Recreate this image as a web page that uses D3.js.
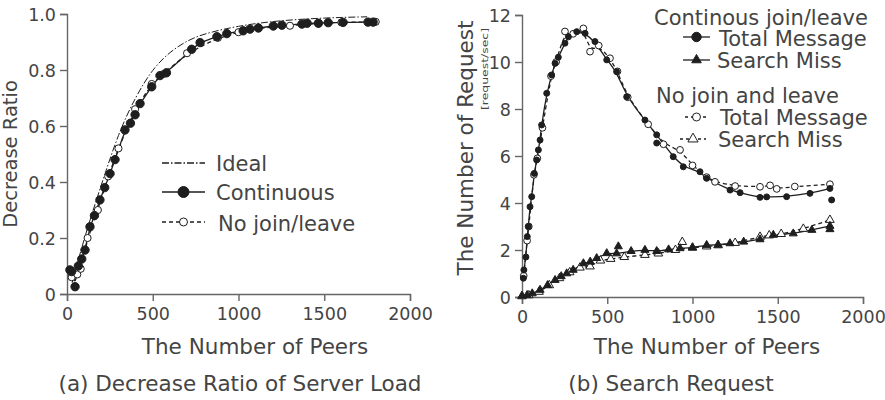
<!DOCTYPE html>
<html>
<head>
<meta charset="utf-8">
<script src="https://cdn.jsdelivr.net/npm/d3@7"></script>
<style>
body { margin: 0; background: #fff; }
text { font-family: "DejaVu Sans", Verdana, sans-serif; fill: #444; }
</style>
</head>
<body>
<div id="chart"></div>
<script>
// ---- (a) decrease ratio of server load ----
const idealPeers = [30, 100, 200, 300, 400, 500, 600, 700, 800, 1000, 1200, 1400, 1600, 1750]
const idealRatio = [0.04, 0.2, 0.39, 0.575, 0.705, 0.805, 0.865, 0.905, 0.93, 0.958, 0.974, 0.983, 0.988, 0.99]

const contPeers = [17, 27, 47, 66, 86, 105, 134, 160, 192, 220, 251, 280, 338, 370, 397, 426, 494, 542, 580, 727, 776, 874, 932, 1027, 1067, 1116, 1203, 1253, 1370, 1400, 1466, 1523, 1610, 1755, 1785]
const contRatio = [0.086, 0.08, 0.026, 0.10, 0.125, 0.157, 0.24, 0.28, 0.336, 0.38, 0.43, 0.48, 0.586, 0.61, 0.64, 0.68, 0.74, 0.78, 0.79, 0.874, 0.898, 0.919, 0.93, 0.94, 0.946, 0.95, 0.957, 0.96, 0.964, 0.967, 0.967, 0.969, 0.97, 0.971, 0.971]

const nojoinPeers = [27, 60, 80, 120, 180, 240, 300, 397, 494, 560, 700, 880, 1000, 1116, 1300, 1466, 1600, 1800]
const nojoinRatio = [0.06, 0.07, 0.09, 0.2, 0.3, 0.42, 0.52, 0.66, 0.75, 0.785, 0.86, 0.915, 0.935, 0.95, 0.958, 0.967, 0.97, 0.972]

// ---- (b) search request ----
const tmContPeers = [8, 11, 23, 31, 37, 47, 57, 72, 86, 96, 106, 115, 145, 174, 194, 213, 252, 272, 321, 370, 428, 497, 555, 614, 721, 790, 887, 946, 1044, 1083, 1220, 1279, 1396, 1435, 1552, 1689, 1806]
const tmContReq = [0.8, 1.15, 1.7, 2.57, 3.0, 3.84, 4.27, 5.26, 5.83, 6.26, 6.68, 7.32, 8.67, 9.45, 9.94, 10.2, 10.8, 11.07, 11.29, 11.22, 10.87, 10.09, 9.59, 8.52, 7.53, 6.9, 5.97, 5.54, 5.33, 5.05, 4.55, 4.44, 4.24, 4.26, 4.27, 4.41, 4.62]
const tmContStray = [[790, 6.55], [1816, 4.13]]

const tmNoPeers = [10, 30, 40, 70, 90, 120, 170, 200, 252, 300, 360, 399, 450, 516, 560, 620, 740, 830, 927, 1000, 1083, 1132, 1250, 1396, 1455, 1494, 1600, 1806]
const tmNoReq = [0.9, 2.4, 3.0, 5.2, 5.9, 7.2, 9.4, 10.0, 11.3, 11.2, 11.43, 10.44, 10.7, 10.16, 9.6, 8.5, 7.35, 6.5, 6.26, 5.6, 5.1, 4.9, 4.72, 4.69, 4.75, 4.6, 4.7, 4.8]

const smContPeers = [0, 30, 60, 106, 150, 194, 230, 262, 300, 360, 400, 438, 497, 555, 640, 721, 790, 860, 927, 1000, 1083, 1150, 1220, 1300, 1396, 1474, 1591, 1700, 1806]
const smContReq = [0.05, 0.08, 0.15, 0.3, 0.5, 0.72, 0.88, 1.0, 1.15, 1.43, 1.5, 1.65, 1.86, 1.85, 1.95, 2.0, 1.95, 2.02, 2.07, 2.1, 2.21, 2.22, 2.28, 2.35, 2.45, 2.64, 2.7, 2.85, 3.02]
const smContStray = [[565, 2.15], [1806, 2.88]]

const smNoPeers = [0, 40, 100, 160, 220, 280, 340, 399, 460, 520, 600, 721, 800, 900, 1000, 1083, 1150, 1250, 1396, 1450, 1520, 1650, 1806]
const smNoReq = [0.03, 0.07, 0.22, 0.5, 0.8, 1.05, 1.25, 1.3, 1.55, 1.62, 1.7, 1.79, 1.85, 2.0, 2.1, 2.15, 2.2, 2.3, 2.56, 2.62, 2.68, 2.9, 3.28]
const smNoStray = [[940, 2.34]]

const xTicks = [0, 500, 1000, 1500, 2000]
const ratioTicks = [0, 0.2, 0.4, 0.6, 0.8, 1.0]
const reqTicks = [0, 2, 4, 6, 8, 10, 12]

const width = 885
const height = 400
const ink = "#1e1e1e"
const axisGray = "#666"

let svg = d3.select("#chart")
            .append("svg")
                .attr("width", width)
                .attr("height", height)

const zip = (xs, ys) => xs.map((x, i) => [x, ys[i]])

function drawAxes(x, y, yTicks, yFmt) {
    let gx = svg.append("g")
        .attr("transform", `translate(0, ${y.range()[0]})`)
        .call(d3.axisBottom(x).tickValues(xTicks).tickFormat(d3.format("d")).tickSize(7).tickPadding(7))
    let gy = svg.append("g")
        .attr("transform", `translate(${x.range()[0]}, 0)`)
        .call(d3.axisLeft(y).tickValues(yTicks).tickFormat(yFmt).tickSize(7).tickPadding(4))
    for (let g of [gx, gy]) {
        g.selectAll("path, line").attr("stroke", axisGray).attr("stroke-width", 1.4)
        g.selectAll("text").attr("font-size", "17.5px").attr("fill", "#444")
            .style("font-family", '"DejaVu Sans", Verdana, sans-serif')
    }
    gy.selectAll("text").attr("dy", "0.36em")
}

function drawLine(x, y, pts, dash, w) {
    svg.append("path")
        .datum(pts)
        .attr("fill", "none")
        .attr("stroke", ink)
        .attr("stroke-width", w || 1.3)
        .attr("stroke-dasharray", dash || null)
        .attr("d", d3.line().x(d => x(d[0])).y(d => y(d[1])).curve(d3.curveBasis))
}

function drawMarks(x, y, pts, kind, filled, size) {
    let sym = kind == "tri" ? d3.symbolTriangle : d3.symbolCircle
    svg.append("g").selectAll("path")
        .data(pts)
        .enter()
        .append("path")
            .attr("transform", d => `translate(${x(d[0])}, ${y(d[1])})`)
            .attr("d", d3.symbol().type(sym).size(size))
            .attr("fill", filled ? ink : "#fff")
            .attr("stroke", ink)
            .attr("stroke-width", 1)
}

function legendRow(x1, x2, yy, dash, kind, filled, size, label, tx, ty, fs) {
    svg.append("line")
        .attr("x1", x1).attr("x2", x2).attr("y1", yy).attr("y2", yy)
        .attr("stroke", ink).attr("stroke-width", 1.3)
        .attr("stroke-dasharray", dash || null)
    if (kind) {
        let sym = kind == "tri" ? d3.symbolTriangle : d3.symbolCircle
        svg.append("path")
            .attr("transform", `translate(${(x1 + x2) / 2}, ${yy})`)
            .attr("d", d3.symbol().type(sym).size(size))
            .attr("fill", filled ? ink : "#fff")
            .attr("stroke", ink)
    }
    svg.append("text").attr("x", tx).attr("y", ty).attr("font-size", fs).text(label)
}

// ---------- chart (a) ----------
let xa = d3.scaleLinear().domain([0, 2000]).range([67, 410])
let ya = d3.scaleLinear().domain([0, 1]).range([294, 14])
drawAxes(xa, ya, ratioTicks, d => d == 0 ? "0" : d3.format(".1f")(d))

drawLine(xa, ya, zip(idealPeers, idealRatio), "7,2,1.5,2", 1)
drawLine(xa, ya, zip(nojoinPeers, nojoinRatio), "4,3")
drawLine(xa, ya, zip(contPeers, contRatio))
drawMarks(xa, ya, zip(nojoinPeers, nojoinRatio), "circle", false, 40)
drawMarks(xa, ya, zip(contPeers, contRatio), "circle", true, 55)

legendRow(162, 205, 163, "7,2,1.5,2", null, false, 0, "Ideal", 216, 171, "21px")
legendRow(162, 205, 192, null, "circle", true, 95, "Continuous", 216, 200, "21px")
legendRow(162, 205, 222, "4,3", "circle", false, 50, "No join/leave", 218, 231, "21px")

svg.append("text")
    .attr("transform", "translate(17, 154) rotate(-90)")
    .attr("text-anchor", "middle").attr("font-size", "19.5px")
    .text("Decrease Ratio")
svg.append("text").attr("x", 255).attr("y", 354)
    .attr("text-anchor", "middle").attr("font-size", "21.5px")
    .text("The Number of Peers")
svg.append("text").attr("x", 240).attr("y", 391)
    .attr("text-anchor", "middle").attr("font-size", "21.5px")
    .text("(a) Decrease Ratio of Server Load")

// ---------- chart (b) ----------
let xb = d3.scaleLinear().domain([0, 2000]).range([522, 863])
let yb = d3.scaleLinear().domain([0, 12]).range([297, 15])
drawAxes(xb, yb, reqTicks, d3.format("d"))

drawLine(xb, yb, zip(tmNoPeers, tmNoReq), "4,3")
drawLine(xb, yb, zip(smNoPeers, smNoReq), "4,3")
drawLine(xb, yb, zip(tmContPeers, tmContReq))
drawLine(xb, yb, zip(smContPeers, smContReq))
drawMarks(xb, yb, zip(tmNoPeers, tmNoReq), "circle", false, 36)
drawMarks(xb, yb, zip(smNoPeers, smNoReq).concat(smNoStray), "tri", false, 32)
drawMarks(xb, yb, zip(tmContPeers, tmContReq).concat(tmContStray), "circle", true, 28)
drawMarks(xb, yb, zip(smContPeers, smContReq).concat(smContStray), "tri", true, 28)

svg.append("text").attr("x", 654).attr("y", 25).attr("font-size", "21px").text("Continous join/leave")
legendRow(683, 710, 37, null, "circle", true, 70, "Total Message", 719, 46, "21px")
legendRow(683, 710, 60, null, "tri", true, 40, "Search Miss", 717, 68, "21px")
svg.append("text").attr("x", 656).attr("y", 103).attr("font-size", "21px").text("No join and leave")
legendRow(685, 708, 117, "3,3", "circle", false, 50, "Total Message", 720, 125, "21px")
legendRow(680, 706, 139, "3,3", "tri", false, 45, "Search Miss", 718, 147, "21px")

svg.append("text")
    .attr("transform", "translate(473, 148) rotate(-90)")
    .attr("text-anchor", "middle").attr("font-size", "21.5px")
    .text("The Number of Request")
svg.append("text")
    .attr("transform", "translate(488, 69) rotate(-90)")
    .attr("text-anchor", "middle").attr("font-size", "9.5px")
    .attr("textLength", 82).attr("lengthAdjust", "spacingAndGlyphs")
    .text("[request/sec]")
svg.append("text").attr("x", 707).attr("y", 354)
    .attr("text-anchor", "middle").attr("font-size", "21.5px")
    .text("The Number of Peers")
svg.append("text").attr("x", 671).attr("y", 391)
    .attr("text-anchor", "middle").attr("font-size", "21.5px")
    .text("(b) Search Request")
</script>
</body>
</html>
